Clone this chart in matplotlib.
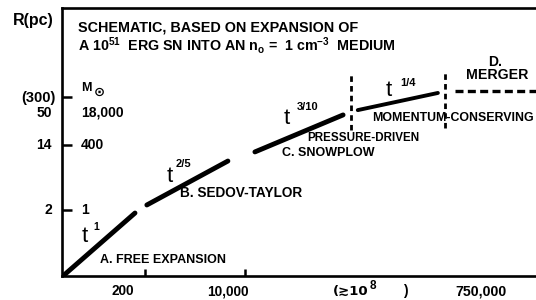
import matplotlib
matplotlib.use("Agg")
import matplotlib.pyplot as plt

plt.rcParams['font.family'] = ['Liberation Sans', 'DejaVu Sans']
plt.rcParams['mathtext.default'] = 'regular'
plt.rcParams['font.weight'] = 'bold'

# Schematic units: x = position along log-time axis (0-100), y = position along log-R axis (0-100)
free_x = [0.2, 15.4]
free_y = [0.0, 23.5]
sedov_x = [17.9, 35.0]
sedov_y = [26.5, 42.9]
snow_x = [40.7, 59.3]
snow_y = [46.3, 60.1]
mom_x = [62.4, 79.3]
mom_y = [61.9, 68.3]
div1_x = [61.0, 61.0]
div1_y = [54.5, 75.7]
div2_x = [80.8, 80.8]
div2_y = [55.2, 75.7]
merger_x = [82.9, 100.0]
merger_y = [69.0, 69.0]

xtick_pos = [17.5, 38.6]
ytick_pos = [24.6, 48.9, 66.8]
xtick_labels = ['200', '10,000', '(\u227310', '750,000']
r_labels = ['2', '14', '50']
m_labels = ['1', '400', '18,000']

W, H = 536, 300
fig = plt.figure(figsize=(W / 100, H / 100), dpi=100)
L, B, T = 62, 276, 8
ax = fig.add_axes([L / W, (H - B) / H, (W - L) / W, (B - T) / H])
ax.set_xlim(0, 100)
ax.set_ylim(0, 100)
ax.spines['right'].set_visible(False)
for s in ['left', 'bottom', 'top']:
    ax.spines[s].set_linewidth(1.9)
ax.set_xticks(xtick_pos)
ax.set_yticks(ytick_pos)
ax.set_xticklabels([])
ax.set_yticklabels([])
ax.tick_params(axis='x', direction='in', length=5, width=1.8)
ax.tick_params(axis='y', direction='in', length=7, width=1.8)


def px(x, y):
    return ((x - L) / (W - L) * 100, (B - y) / (B - T) * 100)


lw = 3.5
k = dict(color='black', solid_capstyle='round')
ax.plot(free_x, free_y, lw=lw, **k)
ax.plot(sedov_x, sedov_y, lw=lw, **k)
ax.plot(snow_x, snow_y, lw=lw, **k)
ax.plot(mom_x, mom_y, lw=2.8, **k)
ax.plot(div1_x, div1_y, color='black', lw=2.0, dashes=(2.0, 1.5))
ax.plot(div2_x, div2_y, color='black', lw=2.0, dashes=(2.0, 1.5))
ax.plot(merger_x, merger_y, color='black', lw=2.4, dashes=(2.4, 1.3), clip_on=False)

fs = 9.3
def t(x, y, s, size=fs, ha='left', va='center', **kw):
    ax.text(*px(x, y), s, fontsize=size, ha=ha, va=va, clip_on=False, **kw)

# header
t(78, 28, 'SCHEMATIC, BASED ON EXPANSION OF', size=10.4)
t(78, 46, r'A 10$^{51}$  ERG SN INTO AN n$_{o}$ =  1 cm$^{-3}$  MEDIUM', size=10.3)

# axis labels
t(33, 21, 'R(pc)', size=11.5, ha='center')
t(52, 210, r_labels[0], ha='right', size=10)
t(52, 145, r_labels[1], ha='right', size=10)
t(52, 113, r_labels[2], ha='right', size=10)
t(38, 98, '(300)', ha='center', size=10.5)
t(81, 210, m_labels[0], size=10)
t(81, 145, m_labels[1], size=10)
t(81, 113, m_labels[2], size=10)
t(81, 88, 'M', size=9)
t(94, 92, '\u2299', size=9.5, family=['DejaVu Sans'], weight='bold')

t(123, 291, xtick_labels[0], ha='center', size=9.8)
t(228, 291, xtick_labels[1], ha='center', size=9.8)
t(333, 291, xtick_labels[2], family=['DejaVu Sans', 'Liberation Sans'], size=9.5)
t(370, 286, '8', size=8.5)
t(403, 291, ')', size=10)
t(481, 291, xtick_labels[3], ha='center', size=10.2)

# phase labels
t(82, 236, 't', size=16, weight='normal')
t(93, 227, '1', size=7.5)
t(100, 260, 'A. FREE EXPANSION', size=9.0)
t(167, 176, 't', size=16, weight='normal')
t(176, 164, '2/5', size=8)
t(180, 193, 'B. SEDOV-TAYLOR', size=9.8)
t(284, 119, 't', size=16, weight='normal')
t(297, 107, '3/10', size=8)
t(307, 138, 'PRESSURE-DRIVEN', size=8.4)
t(282, 153, 'C. SNOWPLOW', size=9.0)
t(386, 91, 't', size=16, weight='normal')
t(400, 83, '1/4', size=8)
t(372, 118, 'MOMENTUM-CONSERVING', size=8.9)
t(495, 62, 'D.', ha='center', size=10)
t(497, 75, 'MERGER', ha='center', size=10.2)

fig.savefig('out.png', dpi=100)
